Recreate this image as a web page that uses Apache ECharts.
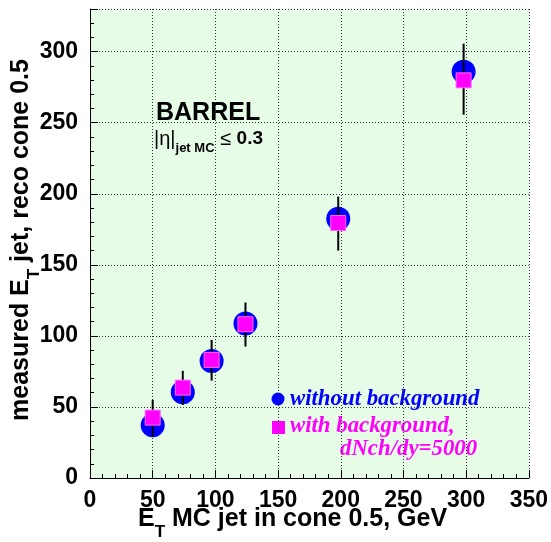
<!DOCTYPE html>
<html><head><meta charset="utf-8">
<script src="https://cdn.jsdelivr.net/npm/echarts@6/dist/echarts.min.js"></script>
<style>html,body{margin:0;padding:0;background:#fff}#c{width:551px;height:542px}</style>
</head><body><div id="c"></div>
<script>
// ---- data ----
const etMC      = [50, 74, 97, 124, 198, 298];          // E_T MC jet (GeV)
const noBkg     = [37.1, 60.3, 82.4, 108.7, 182.4, 285.9]; // without background
const withBkg   = [42.5, 63.6, 83.1, 108.2, 179.4, 279.8]; // with background
const errLow    = [29, 51.4, 68.5, 92.5, 160, 255.6];
const errHigh   = [55, 75.4, 97.2, 123.5, 198, 305.6];
const xRange = [0, 350];
const yRange = [0, 330];
const tickStep = 50;

const chart = echarts.init(document.getElementById('c'), null, {renderer: 'canvas'});
const SANS = 'Liberation Sans, Arial, Helvetica, sans-serif';
const SERIF = 'Liberation Serif, Times New Roman, serif';

const gridLine = {show: true, lineStyle: {color: '#333', type: [1, 2], width: 1}};
function axisCommon() {
  return {
    type: 'value', interval: tickStep,
    axisLine: {show: true, onZero: false, lineStyle: {color: '#000', width: 1}},
    axisTick: {show: true, inside: true, length: 8, lineStyle: {color: '#000'}},
    minorTick: {show: true, splitNumber: 5, length: 4, lineStyle: {color: '#000'}},
    splitLine: gridLine,
    axisLabel: {color: '#000', fontFamily: SANS, fontWeight: 'bold', fontSize: 23, showMaxLabel: true}
  };
}
const xAxis = Object.assign(axisCommon(), {min: xRange[0], max: xRange[1]});
xAxis.axisLabel = Object.assign({}, xAxis.axisLabel, {margin: 11});
const yAxis = Object.assign(axisCommon(), {min: yRange[0], max: yRange[1]});
yAxis.axisLabel = Object.assign({}, yAxis.axisLabel, {margin: 12, showMaxLabel: false});

const main = {fontSize: 25, fontWeight: 'bold', fontFamily: SANS, color: '#000', lineHeight: 34, verticalAlign: 'top'};
const sub = {fontSize: 17, fontWeight: 'bold', fontFamily: SANS, color: '#000', lineHeight: 17, verticalAlign: 'bottom'};
const legFont = 'italic bold 22.8px ' + SERIF;

chart.setOption({
  animation: false,
  grid: {left: 90, right: 22, top: 9, bottom: 64, show: true, backgroundColor: '#e6fce6', borderWidth: 0},
  xAxis: xAxis,
  yAxis: yAxis,
  series: [
    {
      name: 'without background', type: 'scatter', z: 2,
      symbol: 'circle', symbolSize: 24,
      itemStyle: {color: '#0000ff', opacity: 1},
      data: etMC.map((x, i) => [x, noBkg[i]])
    },
    {
      name: 'errors', type: 'custom', z: 3,
      encode: {x: 0, y: [1, 2]},
      renderItem: function (params, api) {
        const x = api.value(0);
        const p1 = api.coord([x, api.value(1)]);
        const p2 = api.coord([x, api.value(2)]);
        return {type: 'line', shape: {x1: p1[0], y1: p1[1], x2: p2[0], y2: p2[1]},
                style: {stroke: '#000', lineWidth: 2}};
      },
      data: etMC.map((x, i) => [x, errLow[i], errHigh[i]])
    },
    {
      name: 'with background', type: 'scatter', z: 4,
      symbol: 'rect', symbolSize: 15,
      itemStyle: {color: '#ff00ff', borderColor: '#ff66ff', borderWidth: 1, opacity: 1},
      data: etMC.map((x, i) => [x, withBkg[i]])
    }
  ],
  graphic: [
    {type: 'text', x: 156, y: 113, style: {text: 'BARREL', font: 'bold 25px ' + SANS, fill: '#000', textAlign: 'left', textVerticalAlign: 'middle'}},
    {type: 'text', x: 154, y: 129, style: {
      text: '{a||η|}{b|jet MC}{c| ≤ }{d|0.3}',
      textAlign: 'left', textVerticalAlign: 'top',
      rich: {
        a: {fontSize: 20, fontFamily: SANS, color: '#000', lineHeight: 26, verticalAlign: 'top'},
        b: {fontSize: 13, fontWeight: 'bold', fontFamily: SANS, color: '#000', lineHeight: 10, verticalAlign: 'bottom'},
        c: {fontSize: 20, fontFamily: SANS, color: '#000', lineHeight: 26, verticalAlign: 'top'},
        d: {fontSize: 19, fontWeight: 'bold', fontFamily: SANS, color: '#000', lineHeight: 26, verticalAlign: 'top'}
      }}},
    // legend
    {type: 'circle', shape: {cx: 278, cy: 399, r: 6.5}, style: {fill: '#0000ff'}},
    {type: 'text', x: 290, y: 399, style: {text: 'without background', font: legFont, fill: '#0000ff', textAlign: 'left', textVerticalAlign: 'middle'}},
    {type: 'rect', shape: {x: 272, y: 421, width: 13, height: 13}, style: {fill: '#ff00ff'}},
    {type: 'text', x: 290, y: 426, style: {text: 'with background,', font: legFont, fill: '#ff00ff', textAlign: 'left', textVerticalAlign: 'middle'}},
    {type: 'text', x: 340, y: 449, style: {text: 'dNch/dy=5000', font: legFont, fill: '#ff00ff', textAlign: 'left', textVerticalAlign: 'middle'}},
    // axis titles
    {type: 'text', x: 138, y: 507, style: {
      text: '{a|E}{b|T}{a| MC jet in cone 0.5, GeV}', textAlign: 'left', textVerticalAlign: 'top',
      rich: {a: main, b: sub}}},
    {type: 'text', x: 25.5, y: 240, rotation: Math.PI / 2, style: {
      text: '{a|measured E}{b|T}{a| jet, reco cone 0.5}', textAlign: 'center', textVerticalAlign: 'middle',
      rich: {a: main, b: sub}}}
  ]
});
</script>
</body></html>
